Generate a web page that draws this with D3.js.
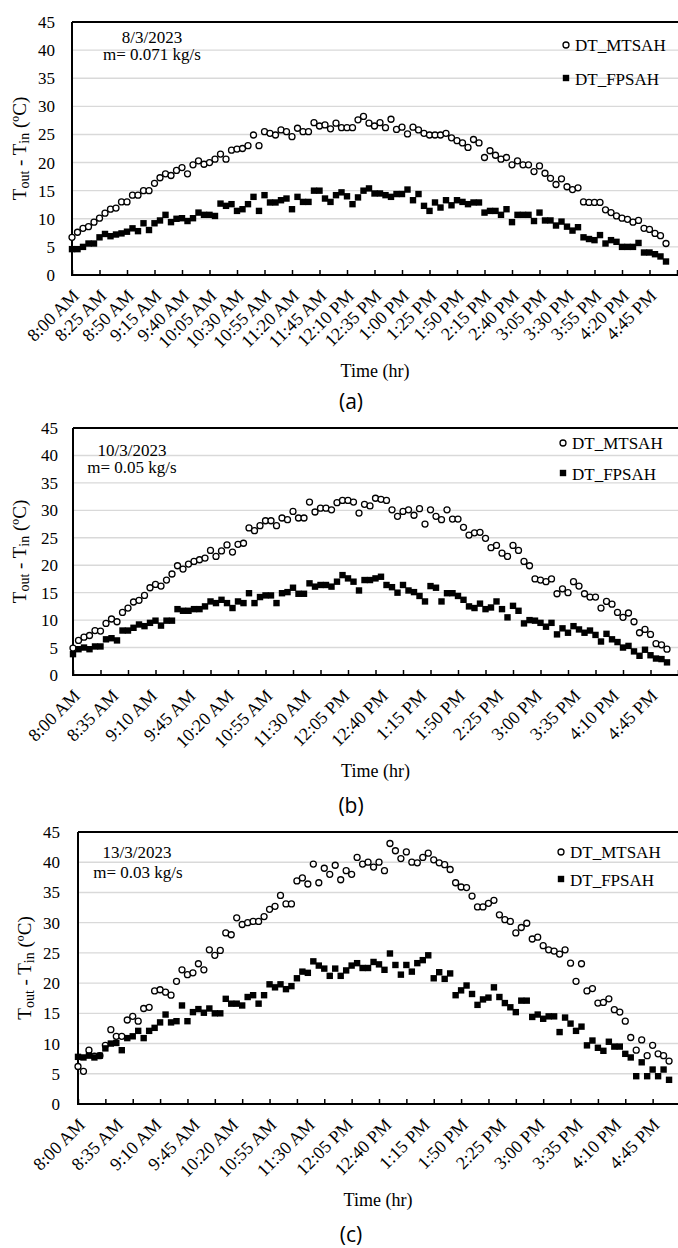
<!DOCTYPE html>
<html><head><meta charset="utf-8">
<script src="https://cdn.jsdelivr.net/npm/d3@7"></script>
<style>body{margin:0;background:#fff}svg{display:block}
svg text{font-family:"Liberation Serif","Times New Roman",Times,serif}
svg text.sans{font-family:"Open Sans","Liberation Sans",sans-serif}</style>
</head><body>
<svg id="chart" width="678" height="1248"></svg>
<script>
// ---------- categories (5-minute steps from 8:00 AM) ----------
const categories = d3.range(111).map(i => {
  const m = 480 + 5 * i; let h = Math.floor(m / 60); const mm = m % 60;
  const ap = h >= 12 ? "PM" : "AM"; if (h > 12) h -= 12;
  return `${h}:${String(mm).padStart(2, "0")} ${ap}`;
});
const yTicks = [0, 5, 10, 15, 20, 25, 30, 35, 40, 45];
const tickLabelsA = ["8:00 AM","8:25 AM","8:50 AM","9:15 AM","9:40 AM","10:05 AM","10:30 AM","10:55 AM","11:20 AM","11:45 AM","12:10 PM","12:35 PM","1:00 PM","1:25 PM","1:50 PM","2:15 PM","2:40 PM","3:05 PM","3:30 PM","3:55 PM","4:20 PM","4:45 PM"];
const tickLabelsBC = ["8:00 AM","8:35 AM","9:10 AM","9:45 AM","10:20 AM","10:55 AM","11:30 AM","12:05 PM","12:40 PM","1:15 PM","1:50 PM","2:25 PM","3:00 PM","3:35 PM","4:10 PM","4:45 PM"];
const seriesNames = ["DT_MTSAH", "DT_FPSAH"];

// ---------- panel (a) 8/3/2023 ----------
const mtsahA = [6.7,7.6,8.3,8.6,9.4,10.1,11,11.7,11.9,13,13,14.2,14.2,15,15,16.3,17.3,18,17.7,18.6,19.1,18,19.6,20.3,19.7,20,20.6,21.5,20.6,22.2,22.4,22.5,23,24.9,23,25.5,25.2,24.9,25.8,25.5,24.6,26.1,25.5,25.5,27.1,26.5,26.7,26,27,
 26.2,26.2,26.2,27.6,28.2,27,26.5,27.1,26.2,27.7,25.9,26.3,25.1,26.3,25.8,25.2,24.9,24.9,24.9,25.2,24.4,23.9,23.5,22.7,24.1,23.5,20.9,22.1,21.3,20.6,20.9,19.6,20.3,19.6,19.6,18.4,19.4,18.1,17.2,16.1,17.1,15.7,15.2,15.5,13,12.9,12.9,12.9,11.6,11.1,10.5,10.1,9.9,9.4,9.7,8.3,8.1,7.4,7,5.6];
const fpsahA = [4.6,4.6,5,5.6,5.6,6.7,7.3,6.9,7.2,7.4,7.7,8.3,7.8,9.2,8,9.2,9.7,10.7,9.4,10,10.1,9.6,10.1,11.1,10.7,10.7,10.5,12.7,12.3,12.6,11.4,11.7,12.6,13.9,11.4,14.2,12.9,12.9,13.3,13.6,11.7,13.9,13,13,15,15,13.6,13,14.2,
 14.7,14,12.6,13.8,15,15.4,14.5,14.5,14.2,13.9,14.4,14.4,15.2,13.3,14.4,12.3,11.4,12.9,12,13.3,12.4,13.3,13,12.6,12.9,12.9,11.1,11.4,11.4,10.7,11.7,9.4,10.7,10.7,10.7,9.6,11.1,9.7,9.7,8.8,9.5,8.6,7.9,8.5,6.7,6.4,6.2,7.1,5.6,6.2,5.9,5,5,5,5.7,4,4,3.7,3.3,2.4];

// ---------- panel (b) 10/3/2023 ----------
const mtsahB = [4.9,6.3,6.9,7.2,8.1,8,9.4,10.2,9.7,11.4,12.2,13.3,13.6,14.5,15.9,16.5,16.2,17.3,18.4,19.9,19.3,20.2,20.7,21,21.3,22.7,21.6,22.6,23.7,22.4,23.8,24,26.8,26.3,27.2,28.1,28.1,27.2,28.6,28.3,29.8,28.6,28.6,31.5,29.7,30.4,30.4,30.1,31.4,
 31.8,31.8,31.5,29.5,31.1,30.8,32.2,32,31.8,30.1,28.9,29.8,30.1,29.1,30.3,27.5,30.1,28.9,28.3,30.1,28.4,28.4,26.9,25.5,25.9,26,24.9,23.2,23.6,22.2,21.6,23.6,22.7,20.7,19.9,17.5,17.3,17,17.5,14.8,15.7,15,17,16.2,14.8,14.2,14.2,12.2,13.4,12.9,11.4,10.5,11.3,9.7,7.7,8.3,7.4,5.7,5.5,4.7];
const fpsahB = [3.8,4.7,5,4.7,5.2,5.2,6.5,6.7,6.3,8.1,8.1,8.6,9.2,8.9,9.5,9.9,9,9.9,9.9,12,11.7,11.7,12,12,12.5,13.4,13.1,13.7,13.1,12.2,13.4,13.1,14.9,13.1,14.2,14.5,14.5,13.1,14.9,15.1,15.9,14.8,14.8,16.7,16.1,16.4,16.4,16.1,17,
 18.2,17.6,17,15.4,17.3,17.3,17.6,17.9,16.4,16,15,16.4,15.4,15.1,14.4,13.4,16.2,15.9,13.4,14.9,14.9,14.4,13.7,12.5,12.2,13,12,12.3,13.4,12,10.5,12.6,11.7,9.4,10,9.9,9.5,8.8,9.5,7.4,8.5,7.7,8.9,8.3,7.7,8.1,7.3,6.1,7.5,6.5,6,5,5.3,4.3,3.5,4.6,3.6,3,2.9,2.3];

// ---------- panel (c) 13/3/2023 ----------
const mtsahC = [6.2,5.4,8.9,7.9,8,9.7,12.3,11.2,11.2,13.9,14.5,13.7,15.8,16,18.7,18.9,18.5,18,20.3,22.2,21.4,21.7,23.2,22.2,25.5,24.6,25.4,28.3,28,30.8,29.7,30,30.2,30.2,31,32.2,32.7,34.5,33.1,33.1,36.9,37.4,36.4,39.7,36.6,39,38,39.5,
 37.1,38.6,38,40.8,39.7,40,39.2,40,38.6,43.1,41.9,40.6,41.7,40,39.9,40.8,41.5,40.4,39.9,39.6,38.8,36.6,35.9,35.8,34.4,32.6,32.6,33.2,33.7,31.3,30.5,30.2,28.3,29.2,29.9,27.3,27.6,26.2,25.5,25.3,24.8,25.5,23.3,20.3,23.2,18.7,19.1,16.7,16.8,17.4,15.6,15.2,13.7,11,8.9,10.6,8,9.7,8.3,8,7.1];
const fpsahC = [7.8,7.7,8,7.7,8,9.2,10,10.1,8.9,10.9,11.2,12.1,10.9,12.1,12.6,13.5,14.8,13.5,13.7,16.3,13.7,15.2,15.7,15.1,15.8,15,15,17.4,16.6,16.6,16.3,17.7,18,16.6,18,19.8,19.3,19.8,19,19.5,20.8,21.9,21.7,23.6,22.9,22.4,21.2,22.4,
 21.2,22.1,22.9,23.3,22.5,22.5,23.5,23.1,22.2,24.9,23,21.4,23,21.9,23.3,23.8,24.6,20.8,21.8,20.7,21.6,18,18.8,19.6,18.2,16.4,17.3,17.6,19.3,17.7,16.7,16,15.2,17.1,17.1,14.4,14.8,14.1,14.5,14.5,11.9,14.3,13.3,12.1,12.8,9.7,10.5,9.3,8.8,10.3,9.5,9.5,8.3,7.7,4.6,6.9,4.6,5.7,4.6,5.7,4];

const svg = d3.select("#chart");

function panel(o) {
  const x = d3.scalePoint().domain(categories).range([o.left, o.xEnd]);
  const y = d3.scaleLinear().domain([0, 45]).range([o.bottom, o.top]);
  const g = svg.append("g");
  const right = 678;

  // gridlines
  g.selectAll("line.grid").data(yTicks.filter(v => v > 0 && v < 45)).join("line")
    .attr("x1", o.left).attr("x2", right).attr("y1", d => y(d)).attr("y2", d => y(d))
    .attr("stroke", "#d9d9d9").attr("stroke-width", 1.4);
  // top border
  g.append("line").attr("x1", o.left).attr("x2", right).attr("y1", y(45)).attr("y2", y(45))
    .attr("stroke", "#000").attr("stroke-width", 1.8);

  // y axis labels
  const ya = g.append("g").attr("transform", `translate(${o.left},0)`)
    .call(d3.axisLeft(y).tickValues(yTicks).tickSize(0).tickPadding(o.yPad).tickFormat(d3.format("d")));
  ya.attr("font-family", null);
  ya.select(".domain").remove();
  ya.selectAll("text").attr("font-size", 17).attr("fill", "#000");

  // x axis with inside ticks every 5 categories
  const xa = g.append("g").attr("transform", `translate(0,${o.bottom})`)
    .call(d3.axisBottom(x).tickValues(categories.filter((c, i) => i % 5 === 0)).tickSize(-5).tickFormat(""));
  xa.select(".domain").attr("d", `M${o.left},0H${right}`).attr("stroke-width", 2);
  xa.selectAll(".tick line").attr("stroke-width", 1.5);

  // y axis line
  g.append("line").attr("x1", o.left).attr("x2", o.left).attr("y1", y(45)).attr("y2", o.bottom + 1)
    .attr("stroke", "#000").attr("stroke-width", 2);

  // rotated x labels
  g.selectAll("text.xl").data(o.labels).join("text")
    .attr("transform", d => `translate(${x(d) + 8},${o.bottom + 22}) rotate(-45)`)
    .attr("text-anchor", "end").attr("font-size", 18).text(d => d);

  // axis titles
  const yt = g.append("text")
    .attr("transform", `translate(${o.yTitleX},${(o.top + o.bottom) / 2}) rotate(-90)`)
    .attr("text-anchor", "middle").attr("font-size", 19).attr("dominant-baseline", "middle");
  yt.append("tspan").text("T");
  yt.append("tspan").attr("font-size", 14).attr("dy", 4).text("out");
  yt.append("tspan").attr("dy", -4).text(" - T");
  yt.append("tspan").attr("font-size", 14).attr("dy", 4).text("in");
  yt.append("tspan").attr("dy", -4).text(" (ºC)");

  g.append("text").attr("x", (o.left + right) / 2).attr("y", o.bottom + 102)
    .attr("text-anchor", "middle").attr("font-size", 18).text("Time (hr)");

  g.append("text").attr("class", "sans").attr("x", 351).attr("y", o.panelY)
    .attr("text-anchor", "middle").attr("font-size", 21).text(o.panel);

  // annotation
  g.append("text").attr("x", o.ann[0]).attr("y", o.ann[1]).attr("text-anchor", "middle")
    .attr("font-size", 17).text(o.date);
  g.append("text").attr("x", o.ann[2]).attr("y", o.ann[3]).attr("text-anchor", "middle")
    .attr("font-size", 17).text(o.flow);

  // markers
  g.selectAll("circle.m").data(o.s1).join("circle")
    .attr("cx", (d, i) => x(categories[i])).attr("cy", d => y(d)).attr("r", 3)
    .attr("fill", "#fff").attr("stroke", "#000").attr("stroke-width", 1.3);
  const sq = 6.4;
  g.selectAll("rect.m").data(o.s2).join("rect")
    .attr("x", (d, i) => x(categories[i]) - sq / 2).attr("y", d => y(d) - sq / 2)
    .attr("width", sq).attr("height", sq).attr("fill", "#000");

  // legend
  const L = o.leg;
  g.append("circle").attr("cx", L[0]).attr("cy", L[1]).attr("r", 3).attr("fill", "#fff").attr("stroke", "#000").attr("stroke-width", 1.3);
  g.append("text").attr("x", L[0] + 9).attr("y", L[1] + 6).attr("font-size", 17).text(seriesNames[0]);
  g.append("rect").attr("x", L[0] - 3.2).attr("y", L[2] - 3.2).attr("width", sq).attr("height", sq).attr("fill", "#000");
  g.append("text").attr("x", L[0] + 9).attr("y", L[2] + 7).attr("font-size", 17).text(seriesNames[1]);
}

panel({left: 72, xEnd: 677, top: 22, bottom: 275, yPad: 17, yTitleX: 22, labels: tickLabelsA,
  s1: mtsahA, s2: fpsahA, panel: "(a)", panelY: 409, ann: [152, 43, 152, 60], date: "8/3/2023", flow: "m= 0.071 kg/s", leg: [566, 45, 78]});
panel({left: 73, xEnd: 678, top: 428, bottom: 675, yPad: 15, yTitleX: 22, labels: tickLabelsBC,
  s1: mtsahB, s2: fpsahB, panel: "(b)", panelY: 813, ann: [132, 456, 132, 473], date: "10/3/2023", flow: "m= 0.05 kg/s", leg: [563, 443, 473]});
panel({left: 78, xEnd: 680, top: 832, bottom: 1104, yPad: 18, yTitleX: 27, labels: tickLabelsBC,
  s1: mtsahC, s2: fpsahC, panel: "(c)", panelY: 1242, ann: [137, 858, 138, 878], date: "13/3/2023", flow: "m= 0.03 kg/s", leg: [561, 852, 879]});
</script>
</body></html>
